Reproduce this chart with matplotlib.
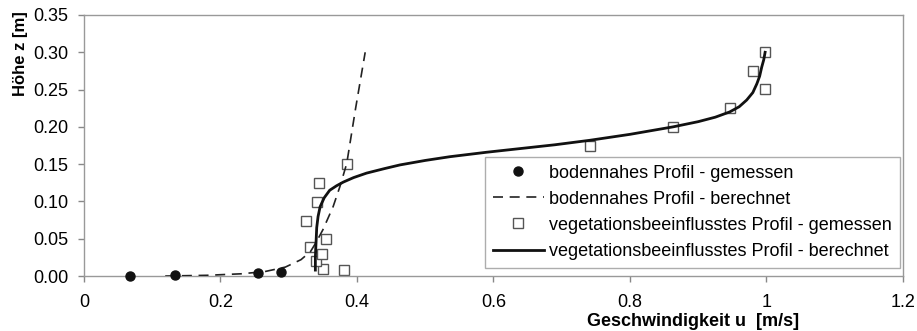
import matplotlib
matplotlib.use("Agg")
import matplotlib.pyplot as plt

plt.rcParams['font.family'] = ['Liberation Sans', 'DejaVu Sans']

# bodennahes Profil - gemessen
u_bod_mess = [0.067, 0.133, 0.255, 0.289]
z_bod_mess = [0.000, 0.002, 0.004, 0.006]

# bodennahes Profil - berechnet
u_bod_calc = [0.119, 0.18, 0.23, 0.265, 0.295, 0.318, 0.332, 0.340, 0.350, 0.365, 0.375, 0.385, 0.398, 0.412]
z_bod_calc = [0.000, 0.001, 0.003, 0.006, 0.012, 0.022, 0.033, 0.045, 0.062, 0.093, 0.120, 0.151, 0.225, 0.300]

# vegetationsbeeinflusstes Profil - gemessen
u_veg_mess = [0.381, 0.350, 0.340, 0.349, 0.331, 0.354, 0.326, 0.342, 0.344, 0.385,
              0.741, 0.863, 0.946, 0.998, 0.980, 0.998]
z_veg_mess = [0.008, 0.010, 0.020, 0.030, 0.039, 0.050, 0.074, 0.099, 0.125, 0.150,
              0.175, 0.200, 0.225, 0.251, 0.275, 0.300]

# vegetationsbeeinflusstes Profil - berechnet
u_veg_calc = [0.339, 0.339, 0.340, 0.341, 0.343, 0.346, 0.352, 0.360, 0.370, 0.380, 0.395, 0.414, 0.440,
              0.463, 0.500, 0.536, 0.590, 0.640, 0.690, 0.741, 0.800, 0.863, 0.900, 0.925, 0.946,
              0.960, 0.971, 0.980, 0.986, 0.990, 0.993, 0.996, 0.998]
z_veg_calc = [0.008, 0.025, 0.045, 0.065, 0.080, 0.093, 0.105, 0.115, 0.121, 0.126, 0.132, 0.138, 0.144,
              0.149, 0.155, 0.160, 0.166, 0.171, 0.176, 0.182, 0.190, 0.200, 0.207, 0.213, 0.220,
              0.227, 0.236, 0.246, 0.258, 0.268, 0.280, 0.290, 0.300]

xticks = [0, 0.2, 0.4, 0.6, 0.8, 1.0, 1.2]
xticklabels = ['0', '0.2', '0.4', '0.6', '0.8', '1', '1.2']
yticks = [0, 0.05, 0.10, 0.15, 0.20, 0.25, 0.30, 0.35]

fig = plt.figure(figsize=(9.17, 3.31), dpi=100)
ax = fig.add_axes([0.0916, 0.166, 0.8931, 0.7887])

ax.plot(u_bod_mess, z_bod_mess, 'o', color='#111111', markersize=6.5, clip_on=False,
        label='bodennahes Profil - gemessen', zorder=5)
ax.plot(u_bod_calc, z_bod_calc, '--', color='#222222', linewidth=1.2, dashes=(6, 4),
        label='bodennahes Profil - berechnet', zorder=3)
ax.plot(u_veg_mess, z_veg_mess, 's', markerfacecolor='white', markeredgecolor='#555555',
        markeredgewidth=1.0, markersize=7.5, clip_on=False,
        label='vegetationsbeeinflusstes Profil - gemessen', zorder=2)
ax.plot(u_veg_calc, z_veg_calc, '-', color='#111111', linewidth=2.0,
        label='vegetationsbeeinflusstes Profil - berechnet', zorder=4)

ax.set_xlim(0, 1.2)
ax.set_ylim(0, 0.35)
ax.set_xticks(xticks)
ax.set_xticklabels(xticklabels)
ax.set_yticks(yticks)
ax.set_yticklabels(['%.2f' % v for v in yticks])
ax.tick_params(axis='both', labelsize=13, color='#888888', length=4, width=1)
ax.tick_params(axis='x', pad=9)
ax.tick_params(axis='y', pad=7)
for s in ax.spines.values():
    s.set_color('#999999')
    s.set_linewidth(1.0)

fig.text(0.014, 0.965, 'Höhe z [m]', rotation=90, ha='left', va='top',
         fontsize=12, fontweight='bold')
fig.text(0.756, 0.004, 'Geschwindigkeit u  [m/s]', ha='center', va='bottom',
         fontsize=13, fontweight='bold')

leg = ax.legend(loc='lower right', bbox_to_anchor=(0.9963, 0.031), borderaxespad=0,
                fontsize=13, frameon=True, fancybox=False, edgecolor='#999999',
                borderpad=0.45, labelspacing=0.5, handlelength=2.8, handletextpad=0.3)
leg.get_frame().set_linewidth(1.0)

fig.savefig('out.png', dpi=100)
